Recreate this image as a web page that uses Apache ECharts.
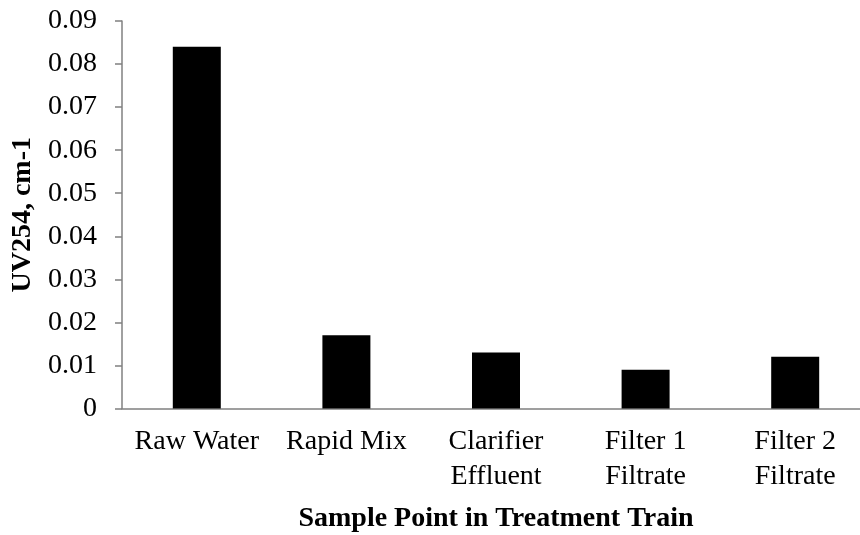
<!DOCTYPE html>
<html>
<head>
<meta charset="utf-8">
<script src="https://cdn.jsdelivr.net/npm/echarts@6/dist/echarts.min.js"></script>
<style>
  html, body { margin: 0; padding: 0; background: #fff; }
  #chart { width: 860px; height: 535px; }
</style>
</head>
<body>
<div id="chart"></div>
<script>
const categories = ['Raw Water', 'Rapid Mix', 'Clarifier\nEffluent', 'Filter 1\nFiltrate', 'Filter 2\nFiltrate']
const uv254 = [0.084, 0.017, 0.013, 0.009, 0.012]

const font = 'Liberation Serif'
const chart = echarts.init(document.getElementById('chart'), null, { renderer: 'canvas' })

chart.setOption({
  animation: false,
  backgroundColor: '#fff',
  // plot runs a little past the right edge, like the source
  grid: { left: 122, width: 748, top: 21, height: 387.5, outerBoundsMode: 'none', containLabel: false },
  xAxis: {
    type: 'category',
    data: categories,
    name: 'Sample Point in Treatment Train',
    nameLocation: 'middle',
    nameGap: 96,
    nameTextStyle: { fontFamily: font, fontSize: 28, fontWeight: 'bold', color: '#000' },
    axisLine: { lineStyle: { color: '#808080', width: 1.5 } },
    axisTick: { show: false },
    axisLabel: { fontFamily: font, fontSize: 28, color: '#000', margin: 16, lineHeight: 35, interval: 0 }
  },
  yAxis: {
    type: 'value',
    min: 0,
    max: 0.09,
    interval: 0.01,
    name: 'UV254, cm-1',
    nameLocation: 'middle',
    nameGap: 85,
    nameTextStyle: { fontFamily: font, fontSize: 28, fontWeight: 'bold', color: '#000' },
    splitLine: { show: false },
    axisLine: { show: true, lineStyle: { color: '#808080', width: 1.5 } },
    axisTick: { show: true, length: 7, lineStyle: { color: '#808080', width: 1.5 } },
    axisLabel: {
      fontFamily: font, fontSize: 28, color: '#000', margin: 25,
      formatter: v => v === 0 ? '0' : v.toFixed(2)
    }
  },
  series: [{
    type: 'bar',
    data: uv254,
    barWidth: 48,
    itemStyle: { color: '#000' }
  }]
})
</script>
</body>
</html>
